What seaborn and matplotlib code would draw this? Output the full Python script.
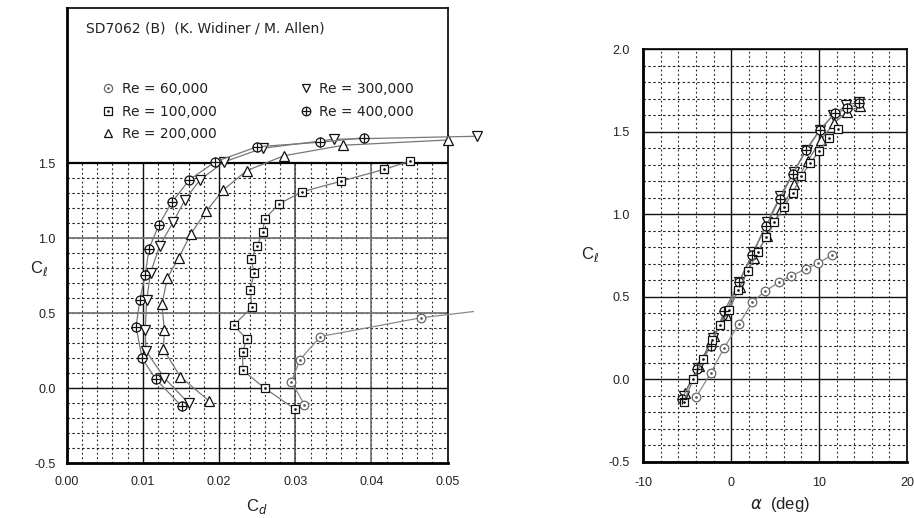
import numpy as np
import pandas as pd
import matplotlib
matplotlib.use("Agg")
import matplotlib.pyplot as plt
import seaborn as sns
from matplotlib.lines import Line2D
from matplotlib.patches import Rectangle
from matplotlib.legend_handler import HandlerTuple
from matplotlib.ticker import MultipleLocator

# ---------------- data ----------------
title_text = "SD7062 (B)  (K. Widiner / M. Allen)"
re_labels = ["Re = 60,000", "Re = 100,000", "Re = 200,000", "Re = 300,000", "Re = 400,000"]

# drag polar (Cd, Cl)
cd_60k = [0.0312, 0.0295, 0.0306, 0.0333, 0.0465, 0.0566]
cl_60k_polar = [-0.11, 0.045, 0.19, 0.345, 0.47, 0.531]

cd_100k = [0.0300, 0.0260, 0.0231, 0.0231, 0.0236, 0.0219, 0.0243, 0.0241, 0.0246,
           0.0242, 0.0250, 0.0257, 0.0260, 0.0279, 0.0309, 0.0360, 0.0417, 0.0451]
cl_100k = [-0.14, 0.00, 0.12, 0.24, 0.33, 0.42, 0.54, 0.655, 0.77,
           0.86, 0.95, 1.04, 1.13, 1.23, 1.31, 1.38, 1.46, 1.515]

cd_200k = [0.0187, 0.0149, 0.0127, 0.0128, 0.0125, 0.0132, 0.0147, 0.0163, 0.0183,
           0.0205, 0.0236, 0.0285, 0.0363, 0.0500]
cl_200k = [-0.085, 0.077, 0.26, 0.39, 0.56, 0.735, 0.87, 1.03, 1.18,
           1.32, 1.45, 1.55, 1.62, 1.655]

cd_300k = [0.0160, 0.0128, 0.0104, 0.0103, 0.0105, 0.0110, 0.0122, 0.0140, 0.0155,
           0.0175, 0.0207, 0.0257, 0.0351, 0.0539]
cl_300k = [-0.10, 0.07, 0.25, 0.39, 0.59, 0.77, 0.95, 1.11, 1.255,
           1.39, 1.51, 1.60, 1.66, 1.68]

cd_400k = [0.0151, 0.0117, 0.0099, 0.0091, 0.0096, 0.0103, 0.0108, 0.0121, 0.0138,
           0.0161, 0.0195, 0.0250, 0.0332, 0.0390]
cl_400k = [-0.12, 0.06, 0.20, 0.41, 0.59, 0.755, 0.93, 1.09, 1.24,
           1.39, 1.51, 1.61, 1.64, 1.67]

# lift curve (alpha, Cl)
alpha_60k = [-4.0, -2.3, -0.8, 0.9, 2.4, 3.8, 5.4, 6.8, 8.5, 9.9, 11.5]
cl_60k = [-0.11, 0.04, 0.19, 0.335, 0.466, 0.531, 0.586, 0.626, 0.667, 0.703, 0.753]

alpha_100k = [-5.4, -4.3, -3.2, -2.2, -1.3, -0.2, 0.8, 1.9, 3.0,
              4.0, 4.9, 6.0, 7.0, 8.0, 9.0, 10.0, 11.1, 12.2]
alpha_200k = [-5.3, -3.7, -2.0, -0.6, 1.0, 2.6, 4.1, 5.7, 7.2, 8.7, 10.2, 11.7, 13.2, 14.7]
alpha_300k = [-5.4, -3.8, -2.1, -0.7, 0.9, 2.5, 4.1, 5.6, 7.1, 8.6, 10.1, 11.6, 13.1, 14.6]
alpha_400k = [-5.6, -3.9, -2.3, -0.8, 0.9, 2.4, 4.0, 5.5, 7.0, 8.5, 10.1, 11.8, 13.2, 14.6]

cd_ticks = [0.00, 0.01, 0.02, 0.03, 0.04, 0.05]
cd_tick_labels = ["0.00", "0.01", "0.02", "0.03", "0.04", "0.05"]
cl_ticks_left = [-0.5, 0.0, 0.5, 1.0, 1.5]
cl_ticks_right = [-0.5, 0.0, 0.5, 1.0, 1.5, 2.0]
alpha_ticks = [-10, 0, 10, 20]

# ---------------- styling ----------------
sns.set_theme(style="white")
plt.rcParams["font.family"] = ["Liberation Sans", "DejaVu Sans"]
plt.rcParams["mathtext.fontset"] = "dejavusans"

fig = plt.figure(figsize=(9.14, 5.18), dpi=100)
fig.patch.set_facecolor("white")
ax1 = fig.add_axes([0.0730, 0.1056, 0.4168, 0.8790])
ax2 = fig.add_axes([0.7038, 0.1087, 0.2885, 0.7967])

TXT = "#222222"
styles = {
    "60k": dict(marker="o", ms=6.2, mec="#666666", line="#8a8a8a", over=".", over_ms=2.0, over_c="#555555"),
    "100k": dict(marker="s", ms=6.0, mec="#111111", line="#777777", over=".", over_ms=2.0, over_c="#111111"),
    "200k": dict(marker="^", ms=6.8, mec="#111111", line="#777777", over=None),
    "300k": dict(marker="v", ms=6.8, mec="#111111", line="#777777", over=None),
    "400k": dict(marker="o", ms=6.5, mec="#111111", line="#777777", over="+", over_ms=6.5, over_c="#111111"),
}


def draw(ax, x, y, st, clip_rect=None, z=3):
    before_l = len(ax.lines)
    sns.lineplot(x=x, y=y, ax=ax, sort=False, estimator=None, color=st["line"], lw=0.9,
                 marker=st["marker"], markersize=st["ms"], markerfacecolor="white",
                 markeredgecolor=st["mec"], markeredgewidth=0.9, clip_on=False, zorder=z)
    if st["over"] is not None:
        sns.lineplot(x=x, y=y, ax=ax, sort=False, estimator=None, linestyle="none",
                     marker=st["over"], markersize=st["over_ms"], color=st["over_c"],
                     markeredgecolor=st["over_c"], markeredgewidth=0.9, clip_on=False, zorder=z + 0.1)
    if clip_rect is not None:
        for ln in ax.lines[before_l:]:
            ln.set_clip_on(True)
            ln.set_clip_path(clip_rect)


# ---------------- left: drag polar ----------------
ax = ax1
ax.set_xlim(0, 0.05)
ax.set_ylim(-0.5, 2.535)
minor_x = np.arange(0.002, 0.05, 0.002)
minor_y = np.arange(-0.4, 1.5, 0.1)
ax.vlines(minor_x, -0.5, 1.5, colors="#222222", linestyles=(0, (1.6, 2.4)), lw=0.8, zorder=1)
ax.hlines(minor_y, 0, 0.05, colors="#222222", linestyles=(0, (2.2, 2.2)), lw=0.8, zorder=1)
ax.vlines([0.01, 0.02], -0.5, 1.5, colors="#111111", lw=1.0, zorder=1.5)
ax.vlines([0.03], -0.5, 1.5, colors="#444444", lw=1.1, zorder=1.5)
ax.vlines([0.04], -0.5, 1.5, colors="#666666", lw=1.1, zorder=1.5)
ax.hlines([0.0], 0, 0.05, colors="#111111", lw=1.0, zorder=1.5)
ax.hlines([0.5, 1.0], 0, 0.05, colors="#777777", lw=1.3, zorder=1.5)
ax.hlines([1.5], 0, 0.05, colors="#000000", lw=1.6, zorder=1.5)

clip60 = Rectangle((0, -0.5), 0.0535, 3.1, transform=ax.transData)
draw(ax, cd_60k, cl_60k_polar, styles["60k"], clip_rect=clip60)
draw(ax, cd_100k, cl_100k, styles["100k"])
draw(ax, cd_200k, cl_200k, styles["200k"])
draw(ax, cd_300k, cl_300k, styles["300k"])
draw(ax, cd_400k, cl_400k, styles["400k"])

ax.set_xticks(cd_ticks)
ax.set_xticklabels(cd_tick_labels)
ax.set_yticks(cl_ticks_left)
ax.set_yticklabels([f"{v:.1f}" for v in cl_ticks_left])
ax.tick_params(axis="both", length=0, labelsize=9, colors=TXT)
ax.tick_params(axis="x", pad=9.5)
ax.tick_params(axis="y", pad=8.0)
ax.set_xlabel("")
ax.set_ylabel("")
for side, sp in ax.spines.items():
    sp.set_visible(True)
    sp.set_color("#000000")
    sp.set_linewidth(2.0 if side in ("left", "bottom") else 1.2)

fig.text(86 / 914, 1 - 29 / 518, title_text, fontsize=10, color=TXT, va="center", ha="left",
         family=["DejaVu Sans"])

handles = []
for key in ["60k", "100k", "200k", "300k", "400k"]:
    st = styles[key]
    h1 = Line2D([], [], ls="none", marker=st["marker"], markersize=st["ms"] * 0.95,
                markerfacecolor="white", markeredgecolor=st["mec"], markeredgewidth=0.9)
    if st["over"] is not None:
        h2 = Line2D([], [], ls="none", marker=st["over"], markersize=st["over_ms"] * 0.95,
                    color=st["over_c"], markeredgecolor=st["over_c"], markeredgewidth=0.9)
        handles.append((h1, h2))
    else:
        handles.append(h1)
leg = fig.legend(handles, re_labels, ncol=2, loc="upper left",
                 bbox_to_anchor=(101 / 914, 1 - 82 / 518), frameon=False,
                 prop={"family": "DejaVu Sans", "size": 10},
                 handlelength=1.0, handletextpad=0.5, labelspacing=0.62, columnspacing=5.9,
                 borderpad=0, borderaxespad=0,
                 handler_map={tuple: HandlerTuple(ndivide=1, pad=0)})
for t in leg.get_texts():
    t.set_color(TXT)

fig.text(39 / 914, 1 - 268 / 518, r"C$_\ell$", fontsize=12, color=TXT, ha="center", va="center")
fig.text(257 / 914, 1 - 506 / 518, r"C$_d$", fontsize=12, color=TXT, ha="center", va="center")

# ---------------- right: lift curve ----------------
ax = ax2
ax.set_xlim(-10, 20)
ax.set_ylim(-0.5, 2.0)
ax.xaxis.set_major_locator(MultipleLocator(10))
ax.xaxis.set_minor_locator(MultipleLocator(2))
ax.yaxis.set_major_locator(MultipleLocator(0.5))
ax.yaxis.set_minor_locator(MultipleLocator(0.1))
ax.grid(which="minor", axis="x", color="#222222", linestyle=(0, (1.6, 2.4)), lw=0.8, zorder=1)
ax.grid(which="minor", axis="y", color="#222222", linestyle=(0, (2.2, 2.2)), lw=0.8, zorder=1)
ax.grid(which="major", color="#111111", linestyle="-", lw=1.0, zorder=1.5)
ax.set_axisbelow(True)

draw(ax2, alpha_60k, cl_60k, styles["60k"])
draw(ax2, alpha_200k, cl_200k, styles["200k"])
draw(ax2, alpha_300k, cl_300k, styles["300k"])
draw(ax2, alpha_400k, cl_400k, styles["400k"])
draw(ax2, alpha_100k, cl_100k, styles["100k"])

ax.set_xticks(alpha_ticks)
ax.set_xticklabels([str(v) for v in alpha_ticks])
ax.set_yticks(cl_ticks_right)
ax.set_yticklabels([f"{v:.1f}" for v in cl_ticks_right])
ax.tick_params(axis="both", which="both", length=0, labelsize=9, colors=TXT)
ax.tick_params(axis="x", pad=11)
ax.tick_params(axis="y", pad=10)
ax.set_xlabel("")
ax.set_ylabel("")
for side, sp in ax.spines.items():
    sp.set_visible(True)
    sp.set_color("#000000")
    sp.set_linewidth(2.0 if side in ("left", "bottom") else 1.2)

fig.text(590 / 914, 1 - 254 / 518, r"C$_\ell$", fontsize=12, color=TXT, ha="center", va="center")
fig.text(780 / 914, 1 - 505 / 518, r"$\alpha$  (deg)", fontsize=12, color=TXT, ha="center", va="center")

fig.savefig("out.png", dpi=100, facecolor="white")
